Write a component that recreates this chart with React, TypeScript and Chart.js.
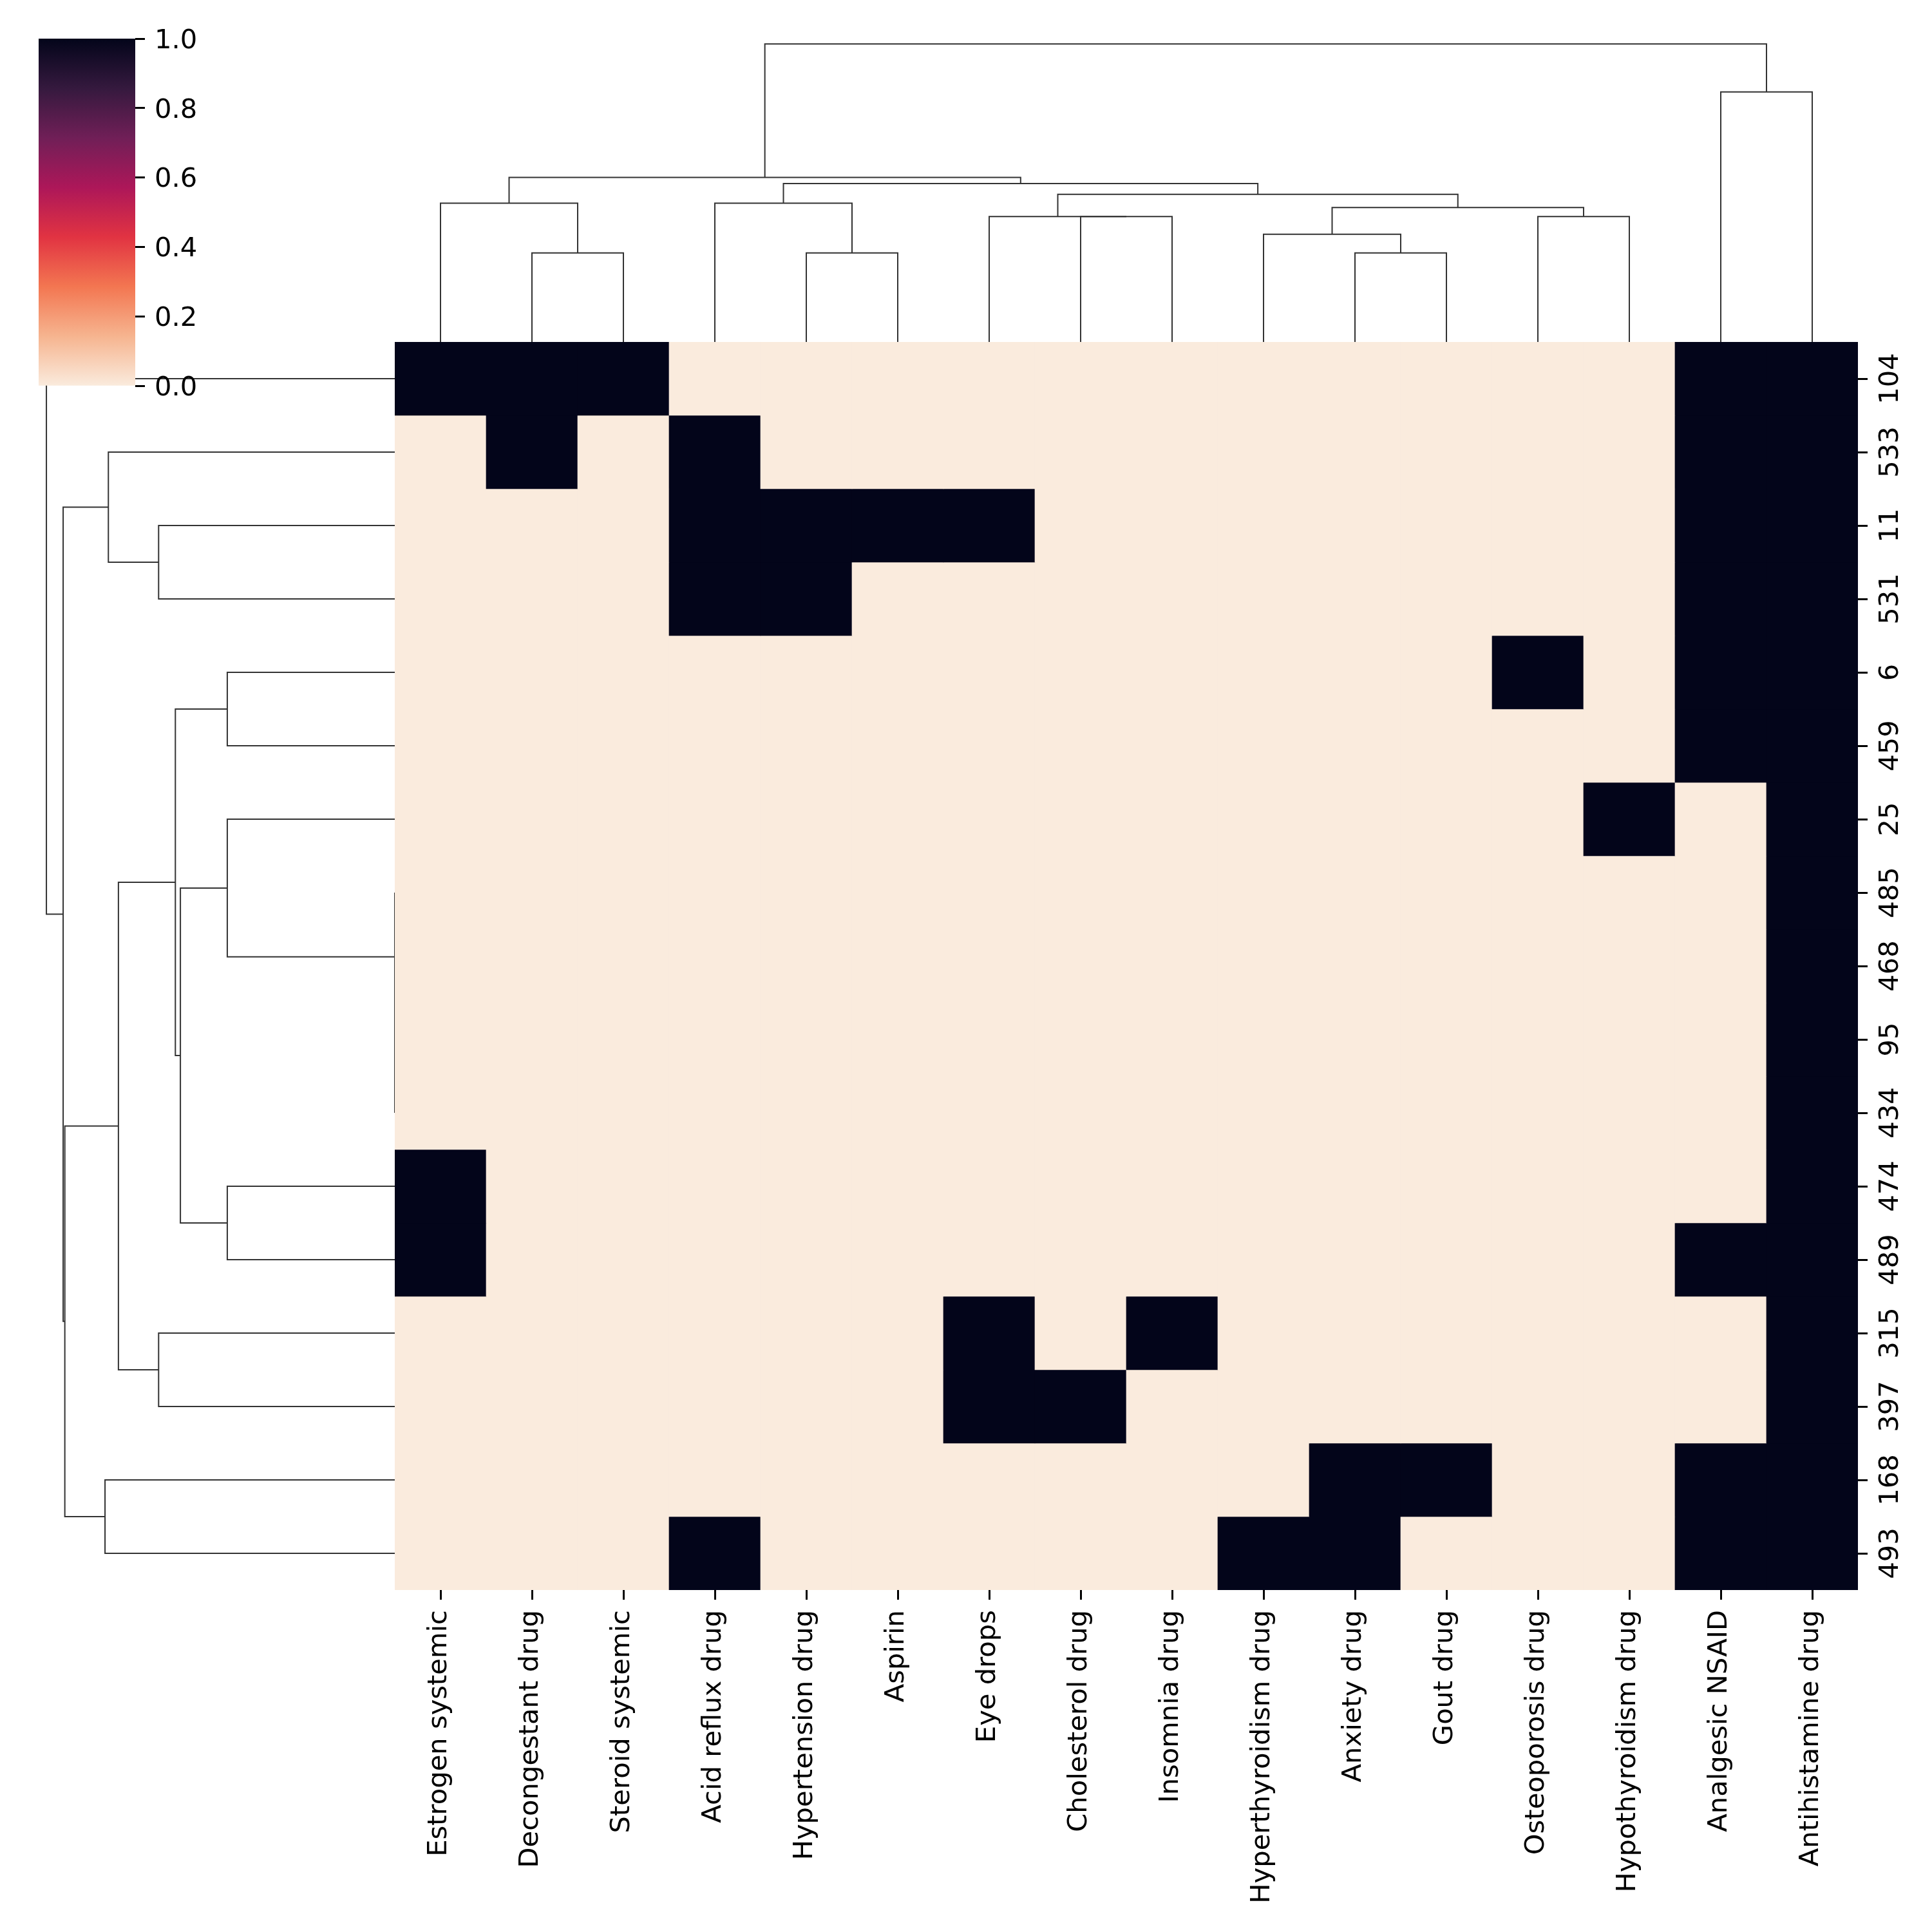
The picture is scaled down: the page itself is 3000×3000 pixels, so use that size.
import React, { useEffect, useRef } from "react";
import { Chart, registerables } from "chart.js";

Chart.register(...registerables);

// ---------------- data ----------------
const colLabels = [
  "Estrogen systemic", "Decongestant drug", "Steroid systemic", "Acid reflux drug",
  "Hypertension drug", "Aspirin", "Eye drops", "Cholesterol drug", "Insomnia drug",
  "Hyperthyroidism drug", "Anxiety drug", "Gout drug", "Osteoporosis drug",
  "Hypothyroidism drug", "Analgesic NSAID", "Antihistamine drug",
];

const rowLabels = ["104", "533", "11", "531", "6", "459", "25", "485", "468", "95", "434", "474", "489", "315", "397", "168", "493"];

// one row per patient, one value per drug column (0 / 1)
const heatValues = [
  [1, 1, 1, 0, 0, 0, 0, 0, 0, 0, 0, 0, 0, 0, 1, 1],
  [0, 1, 0, 1, 0, 0, 0, 0, 0, 0, 0, 0, 0, 0, 1, 1],
  [0, 0, 0, 1, 1, 1, 1, 0, 0, 0, 0, 0, 0, 0, 1, 1],
  [0, 0, 0, 1, 1, 0, 0, 0, 0, 0, 0, 0, 0, 0, 1, 1],
  [0, 0, 0, 0, 0, 0, 0, 0, 0, 0, 0, 0, 1, 0, 1, 1],
  [0, 0, 0, 0, 0, 0, 0, 0, 0, 0, 0, 0, 0, 0, 1, 1],
  [0, 0, 0, 0, 0, 0, 0, 0, 0, 0, 0, 0, 0, 1, 0, 1],
  [0, 0, 0, 0, 0, 0, 0, 0, 0, 0, 0, 0, 0, 0, 0, 1],
  [0, 0, 0, 0, 0, 0, 0, 0, 0, 0, 0, 0, 0, 0, 0, 1],
  [0, 0, 0, 0, 0, 0, 0, 0, 0, 0, 0, 0, 0, 0, 0, 1],
  [0, 0, 0, 0, 0, 0, 0, 0, 0, 0, 0, 0, 0, 0, 0, 1],
  [1, 0, 0, 0, 0, 0, 0, 0, 0, 0, 0, 0, 0, 0, 0, 1],
  [1, 0, 0, 0, 0, 0, 0, 0, 0, 0, 0, 0, 0, 0, 1, 1],
  [0, 0, 0, 0, 0, 0, 1, 0, 1, 0, 0, 0, 0, 0, 0, 1],
  [0, 0, 0, 0, 0, 0, 1, 1, 0, 0, 0, 0, 0, 0, 0, 1],
  [0, 0, 0, 0, 0, 0, 0, 0, 0, 0, 1, 1, 0, 0, 1, 1],
  [0, 0, 0, 1, 0, 0, 0, 0, 0, 1, 1, 0, 0, 0, 1, 1],
];

// column dendrogram (leaf positions in units of 10 per leaf, merge heights)
const colDendroX = [
  [15, 15, 25, 25],
  [5, 5, 20, 20],
  [45, 45, 55, 55],
  [35, 35, 50, 50],
  [75, 75, 85, 85],
  [65, 65, 80, 80],
  [105, 105, 115, 115],
  [95, 95, 110, 110],
  [125, 125, 135, 135],
  [102.5, 102.5, 130, 130],
  [72.5, 72.5, 116.25, 116.25],
  [42.5, 42.5, 94.375, 94.375],
  [12.5, 12.5, 68.4375, 68.4375],
  [145, 145, 155, 155],
  [40.46875, 40.46875, 150, 150],
];
const colDendroH = [
  [0, 1.0, 1.0, 0],
  [0, 1.56, 1.56, 1.0],
  [0, 1.0, 1.0, 0],
  [0, 1.56, 1.56, 1.0],
  [0, 1.41, 1.41, 0],
  [0, 1.41, 1.41, 1.41],
  [0, 1.0, 1.0, 0],
  [0, 1.21, 1.21, 1.0],
  [0, 1.41, 1.41, 0],
  [1.21, 1.51, 1.51, 1.41],
  [1.41, 1.66, 1.66, 1.51],
  [1.56, 1.78, 1.78, 1.66],
  [1.56, 1.85, 1.85, 1.78],
  [0, 2.81, 2.81, 0],
  [1.85, 3.35, 3.35, 2.81],
];

// row dendrogram
const rowDendroPos = [
  [25, 25, 35, 35],
  [15, 15, 30, 30],
  [45, 45, 55, 55],
  [95, 95, 105, 105],
  [85, 85, 100, 100],
  [75, 75, 92.5, 92.5],
  [65, 65, 83.75, 83.75],
  [115, 115, 125, 125],
  [74.375, 74.375, 120, 120],
  [50, 50, 97.1875, 97.1875],
  [135, 135, 145, 145],
  [73.59375, 73.59375, 140, 140],
  [155, 155, 165, 165],
  [106.796875, 106.796875, 160, 160],
  [22.5, 22.5, 133.3984375, 133.3984375],
  [5, 5, 77.94921875, 77.94921875],
];
const rowDendroH = [
  [0, 1.41, 1.41, 0],
  [0, 1.71, 1.71, 1.41],
  [0, 1.0, 1.0, 0],
  [0, 0, 0, 0],
  [0, 0, 0, 0],
  [0, 0, 0, 0],
  [0, 1.0, 1.0, 0],
  [0, 1.0, 1.0, 0],
  [1.0, 1.28, 1.28, 1.0],
  [1.0, 1.31, 1.31, 1.28],
  [0, 1.41, 1.41, 0],
  [1.31, 1.65, 1.65, 1.41],
  [0, 1.73, 1.73, 0],
  [1.65, 1.97, 1.97, 1.73],
  [1.71, 1.98, 1.98, 1.97],
  [0, 2.08, 2.08, 1.98],
];

const cbarTicks = [0, 0.2, 0.4, 0.6, 0.8, 1.0];
const cmapStops = [0, 0.143, 0.286, 0.429, 0.571, 0.714, 0.857, 1];
const cmapColors = ["#faebdd", "#f6b48f", "#f37651", "#e13342", "#ad1759", "#701f57", "#35193e", "#03051a"];

// ---------------- layout / style ----------------
const FONT_PX = 41.67;
const FONT_FAMILY = "DejaVu Sans";
const LINE_COLOR = "rgb(51,51,51)";
const HM_LEFT = 613;
const HM_TOP = 531;
const HM_W = 2272;
const HM_H = 1938;
const ROW_AXIS_W = 110;
const COL_AXIS_H = 520;
const COL_DENDRO_H = 486;
const ROW_DENDRO_W = 568;
const CB = { left: 0, top: 0, w: 330, h: 650 };

function hexToRgb(h: string) {
  const n = parseInt(h.slice(1), 16);
  return [(n >> 16) & 255, (n >> 8) & 255, n & 255];
}
function cmap(v: number) {
  for (let i = 0; i < cmapStops.length - 1; i++) {
    if (v <= cmapStops[i + 1]) {
      const t = (v - cmapStops[i]) / (cmapStops[i + 1] - cmapStops[i]);
      const a = hexToRgb(cmapColors[i]);
      const b = hexToRgb(cmapColors[i + 1]);
      const c = a.map((x, k) => Math.round(x + (b[k] - x) * t));
      return `rgb(${c[0]},${c[1]},${c[2]})`;
    }
  }
  return cmapColors[cmapColors.length - 1];
}

const baseOpts = {
  animation: false as const,
  responsive: false,
  devicePixelRatio: 1,
  events: [] as any[],
  plugins: { legend: { display: false }, tooltip: { enabled: false } },
};

function dendroDatasets(xs: number[][], ys: number[][]) {
  return xs.map((row, k) => ({
    data: row.map((x, i) => ({ x, y: ys[k][i] })),
    showLine: true,
    borderColor: LINE_COLOR,
    borderWidth: 2,
    pointRadius: 0,
    pointHoverRadius: 0,
    tension: 0,
    fill: false,
    clip: false as any,
  }));
}

const heatLabelPlugin = {
  id: "heatLabels",
  afterDraw(chart: any) {
    const { ctx } = chart;
    const xs = chart.scales.x;
    const ys = chart.scales.y;
    ctx.save();
    ctx.font = `${FONT_PX}px "${FONT_FAMILY}"`;
    ctx.fillStyle = "#000";
    ctx.textAlign = "center";
    ctx.textBaseline = "alphabetic";
    rowLabels.forEach((lab, j) => {
      const py = ys.getPixelForValue(j + 0.5);
      ctx.save();
      ctx.translate(ys.left + 62, py);
      ctx.rotate(-Math.PI / 2);
      ctx.fillText(lab, 0, 0);
      ctx.restore();
    });
    ctx.textAlign = "right";
    colLabels.forEach((lab, i) => {
      const px = xs.getPixelForValue(i);
      ctx.save();
      ctx.translate(px + 9, xs.top + 31);
      ctx.rotate(-Math.PI / 2);
      ctx.fillText(lab, 0, 0);
      ctx.restore();
    });
    ctx.restore();
  },
};

export default function App() {
  const rowRef = useRef<HTMLCanvasElement>(null);
  const colRef = useRef<HTMLCanvasElement>(null);
  const heatRef = useRef<HTMLCanvasElement>(null);
  const cbRef = useRef<HTMLCanvasElement>(null);

  useEffect(() => {
    const charts: Chart[] = [];
    const colMax = Math.max(...colDendroH.flat());
    const rowMax = Math.max(...rowDendroH.flat());

    charts.push(
      new Chart(rowRef.current!, {
        type: "scatter",
        data: { datasets: dendroDatasets(rowDendroH, rowDendroPos) as any },
        options: {
          ...baseOpts,
          layout: { padding: 0 },
          scales: {
            x: { type: "linear", display: false, min: 0, max: rowMax * 1.05, reverse: true },
            y: { type: "linear", display: false, min: 0, max: rowLabels.length * 10, reverse: true },
          },
        } as any,
      })
    );

    charts.push(
      new Chart(colRef.current!, {
        type: "scatter",
        data: { datasets: dendroDatasets(colDendroX, colDendroH) as any },
        options: {
          ...baseOpts,
          layout: { padding: 0 },
          scales: {
            x: { type: "linear", display: false, min: 0, max: colLabels.length * 10 },
            y: { type: "linear", display: false, min: 0, max: colMax * 1.05 },
          },
        } as any,
      })
    );

    const tickGrid = {
      display: true,
      offset: false,
      drawOnChartArea: false,
      drawTicks: true,
      tickLength: 15,
      tickWidth: 3,
      tickColor: "#000",
    };

    charts.push(
      new Chart(heatRef.current!, {
        type: "bar",
        data: {
          labels: colLabels,
          datasets: rowLabels.map((r, j) => ({
            label: r,
            data: colLabels.map(() => [j, j + 1]),
            backgroundColor: heatValues[j].map((v) => cmap(v)),
            borderWidth: 0,
            barPercentage: 1,
            categoryPercentage: 1,
            grouped: false,
          })) as any,
        },
        options: {
          ...baseOpts,
          layout: { padding: 0 },
          scales: {
            x: {
              type: "category",
              position: "bottom",
              offset: true,
              grid: tickGrid,
              border: { display: false },
              ticks: { display: false, autoSkip: false },
              afterFit: (s: any) => { s.height = COL_AXIS_H; },
            },
            y: {
              type: "linear",
              position: "right",
              min: 0,
              max: rowLabels.length,
              reverse: true,
              grid: tickGrid,
              border: { display: false },
              ticks: { display: false },
              afterBuildTicks: (s: any) => { s.ticks = rowLabels.map((_, j) => ({ value: j + 0.5 })); },
              afterFit: (s: any) => { s.width = ROW_AXIS_W; },
            },
          },
        } as any,
        plugins: [heatLabelPlugin],
      })
    );

    charts.push(
      new Chart(cbRef.current!, {
        type: "bar",
        data: {
          labels: [""],
          datasets: [
            {
              data: [[0, 1]] as any,
              backgroundColor: (c: any) => {
                const chart = c.chart;
                const ys = chart.scales.y;
                if (!ys || !chart.chartArea) return cmapColors[0];
                const g = chart.ctx.createLinearGradient(0, ys.getPixelForValue(0), 0, ys.getPixelForValue(1));
                cmapStops.forEach((s, i) => g.addColorStop(s, cmapColors[i]));
                return g;
              },
              borderWidth: 0,
              barPercentage: 1,
              categoryPercentage: 1,
            },
          ],
        },
        options: {
          ...baseOpts,
          layout: { padding: { left: 60, top: 60, right: 0, bottom: 51 } },
          scales: {
            x: { display: false },
            y: {
              type: "linear",
              position: "right",
              min: 0,
              max: 1,
              afterBuildTicks: (s: any) => { s.ticks = cbarTicks.map((v) => ({ value: v })); },
              ticks: {
                callback: (v: any) => Number(v).toFixed(1),
                font: { family: FONT_FAMILY, size: FONT_PX },
                color: "#000",
                padding: 15,
                labelOffset: 4,
              },
              grid: { drawOnChartArea: false, drawTicks: true, tickLength: 15, tickWidth: 3, tickColor: "#000" },
              border: { display: false },
              afterFit: (s: any) => { s.width = 120; },
            },
          },
        } as any,
      })
    );

    return () => charts.forEach((c) => c.destroy());
  }, []);

  const abs = (left: number, top: number, w: number, h: number): React.CSSProperties => ({
    position: "absolute", left, top, width: w, height: h, display: "block",
  });

  return (
    <div style={{ position: "absolute", left: 0, top: 0, width: 3000, height: 3000, background: "#fff", overflow: "hidden" }}>
      <canvas ref={rowRef} width={ROW_DENDRO_W} height={HM_H} style={abs(HM_LEFT - ROW_DENDRO_W, HM_TOP, ROW_DENDRO_W, HM_H)} />
      <canvas ref={colRef} width={HM_W} height={COL_DENDRO_H} style={abs(HM_LEFT, HM_TOP - COL_DENDRO_H, HM_W, COL_DENDRO_H)} />
      <canvas ref={heatRef} width={HM_W + ROW_AXIS_W} height={HM_H + COL_AXIS_H} style={abs(HM_LEFT, HM_TOP, HM_W + ROW_AXIS_W, HM_H + COL_AXIS_H)} />
      <canvas ref={cbRef} width={CB.w} height={CB.h} style={abs(CB.left, CB.top, CB.w, CB.h)} />
    </div>
  );
}
